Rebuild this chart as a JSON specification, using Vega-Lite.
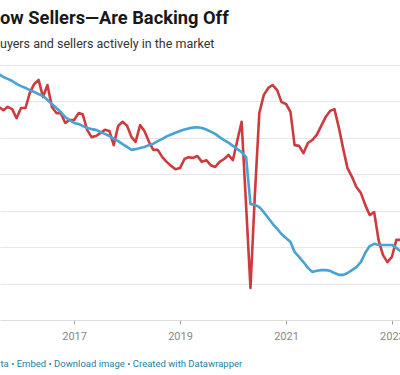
{
  "$schema": "https://vega.github.io/schema/vega-lite/v6.json",
  "width": 400,
  "height": 255,
  "autosize": {"type": "none"},
  "padding": {"left": 0, "top": 65, "right": 0, "bottom": 55},
  "background": "white",
  "config": {"font": "Roboto", "view": {"stroke": null}},
  "title": {
    "text": "ow Sellers—Are Backing Off",
    "subtitle": "uyers and sellers actively in the market",
    "anchor": "start",
    "frame": "group",
    "font": "Roboto",
    "fontSize": 18.3,
    "fontWeight": "bold",
    "color": "#181818",
    "subtitleFont": "Roboto",
    "subtitleFontSize": 12.5,
    "subtitleColor": "#333333",
    "subtitlePadding": 9,
    "offset": 14
  },
  "data": {"values": [
    {"date":"2015-08-01","series":"Buyers","value":58.5},{"date":"2015-08-01","series":"Sellers","value":67.5},
    {"date":"2015-09-01","series":"Buyers","value":57.6},{"date":"2015-09-01","series":"Sellers","value":66.7},
    {"date":"2015-10-01","series":"Buyers","value":58.5},{"date":"2015-10-01","series":"Sellers","value":66.2},
    {"date":"2015-11-01","series":"Buyers","value":57.9},{"date":"2015-11-01","series":"Sellers","value":65.6},
    {"date":"2015-12-01","series":"Buyers","value":55.4},{"date":"2015-12-01","series":"Sellers","value":64.8},
    {"date":"2016-01-01","series":"Buyers","value":58.2},{"date":"2016-01-01","series":"Sellers","value":64.2},
    {"date":"2016-02-01","series":"Buyers","value":58.2},{"date":"2016-02-01","series":"Sellers","value":63.7},
    {"date":"2016-03-01","series":"Buyers","value":62.3},{"date":"2016-03-01","series":"Sellers","value":63.1},
    {"date":"2016-04-01","series":"Buyers","value":64.8},{"date":"2016-04-01","series":"Sellers","value":62.6},
    {"date":"2016-05-01","series":"Buyers","value":65.9},{"date":"2016-05-01","series":"Sellers","value":62.0},
    {"date":"2016-06-01","series":"Buyers","value":61.2},{"date":"2016-06-01","series":"Sellers","value":61.5},
    {"date":"2016-07-01","series":"Buyers","value":64.5},{"date":"2016-07-01","series":"Sellers","value":60.4},
    {"date":"2016-08-01","series":"Buyers","value":58.5},{"date":"2016-08-01","series":"Sellers","value":59.3},
    {"date":"2016-09-01","series":"Buyers","value":56.8},{"date":"2016-09-01","series":"Sellers","value":58.2},
    {"date":"2016-10-01","series":"Buyers","value":56.8},{"date":"2016-10-01","series":"Sellers","value":57.1},
    {"date":"2016-11-01","series":"Buyers","value":54.1},{"date":"2016-11-01","series":"Sellers","value":55.7},
    {"date":"2016-12-01","series":"Buyers","value":54.9},{"date":"2016-12-01","series":"Sellers","value":54.9},
    {"date":"2017-01-01","series":"Buyers","value":54.9},{"date":"2017-01-01","series":"Sellers","value":54.1},
    {"date":"2017-02-01","series":"Buyers","value":56.8},{"date":"2017-02-01","series":"Sellers","value":53.8},
    {"date":"2017-03-01","series":"Buyers","value":56.5},{"date":"2017-03-01","series":"Sellers","value":53.3},
    {"date":"2017-04-01","series":"Buyers","value":52.2},{"date":"2017-04-01","series":"Sellers","value":52.7},
    {"date":"2017-05-01","series":"Buyers","value":50.2},{"date":"2017-05-01","series":"Sellers","value":52.4},
    {"date":"2017-06-01","series":"Buyers","value":50.5},{"date":"2017-06-01","series":"Sellers","value":52.2},
    {"date":"2017-07-01","series":"Buyers","value":51.3},{"date":"2017-07-01","series":"Sellers","value":51.6},
    {"date":"2017-08-01","series":"Buyers","value":52.2},{"date":"2017-08-01","series":"Sellers","value":51.1},
    {"date":"2017-09-01","series":"Buyers","value":51.9},{"date":"2017-09-01","series":"Sellers","value":50.5},
    {"date":"2017-10-01","series":"Buyers","value":48.0},{"date":"2017-10-01","series":"Sellers","value":49.7},
    {"date":"2017-11-01","series":"Buyers","value":53.3},{"date":"2017-11-01","series":"Sellers","value":49.1},
    {"date":"2017-12-01","series":"Buyers","value":54.4},{"date":"2017-12-01","series":"Sellers","value":48.3},
    {"date":"2018-01-01","series":"Buyers","value":53.3},{"date":"2018-01-01","series":"Sellers","value":47.5},
    {"date":"2018-02-01","series":"Buyers","value":50.2},{"date":"2018-02-01","series":"Sellers","value":46.7},
    {"date":"2018-03-01","series":"Buyers","value":48.9},{"date":"2018-03-01","series":"Sellers","value":46.9},
    {"date":"2018-04-01","series":"Buyers","value":53.5},{"date":"2018-04-01","series":"Sellers","value":47.2},
    {"date":"2018-05-01","series":"Buyers","value":51.9},{"date":"2018-05-01","series":"Sellers","value":47.5},
    {"date":"2018-06-01","series":"Buyers","value":48.9},{"date":"2018-06-01","series":"Sellers","value":48.0},
    {"date":"2018-07-01","series":"Buyers","value":46.7},{"date":"2018-07-01","series":"Sellers","value":48.4},
    {"date":"2018-08-01","series":"Buyers","value":46.7},{"date":"2018-08-01","series":"Sellers","value":49.1},
    {"date":"2018-09-01","series":"Buyers","value":44.7},{"date":"2018-09-01","series":"Sellers","value":49.7},
    {"date":"2018-10-01","series":"Buyers","value":43.4},{"date":"2018-10-01","series":"Sellers","value":50.4},
    {"date":"2018-11-01","series":"Buyers","value":42.3},{"date":"2018-11-01","series":"Sellers","value":50.9},
    {"date":"2018-12-01","series":"Buyers","value":41.4},{"date":"2018-12-01","series":"Sellers","value":51.4},
    {"date":"2019-01-01","series":"Buyers","value":41.7},{"date":"2019-01-01","series":"Sellers","value":51.9},
    {"date":"2019-02-01","series":"Buyers","value":44.2},{"date":"2019-02-01","series":"Sellers","value":52.3},
    {"date":"2019-03-01","series":"Buyers","value":44.7},{"date":"2019-03-01","series":"Sellers","value":52.6},
    {"date":"2019-04-01","series":"Buyers","value":44.5},{"date":"2019-04-01","series":"Sellers","value":52.8},
    {"date":"2019-05-01","series":"Buyers","value":45.0},{"date":"2019-05-01","series":"Sellers","value":52.9},
    {"date":"2019-06-01","series":"Buyers","value":43.4},{"date":"2019-06-01","series":"Sellers","value":52.7},
    {"date":"2019-07-01","series":"Buyers","value":43.9},{"date":"2019-07-01","series":"Sellers","value":52.3},
    {"date":"2019-08-01","series":"Buyers","value":42.5},{"date":"2019-08-01","series":"Sellers","value":51.7},
    {"date":"2019-09-01","series":"Buyers","value":42.0},{"date":"2019-09-01","series":"Sellers","value":51.1},
    {"date":"2019-10-01","series":"Buyers","value":43.4},{"date":"2019-10-01","series":"Sellers","value":50.2},
    {"date":"2019-11-01","series":"Buyers","value":44.2},{"date":"2019-11-01","series":"Sellers","value":49.4},
    {"date":"2019-12-01","series":"Buyers","value":45.3},{"date":"2019-12-01","series":"Sellers","value":48.7},
    {"date":"2020-01-01","series":"Buyers","value":43.9},{"date":"2020-01-01","series":"Sellers","value":47.8},
    {"date":"2020-02-01","series":"Buyers","value":49.4},{"date":"2020-02-01","series":"Sellers","value":46.9},
    {"date":"2020-03-01","series":"Buyers","value":54.4},{"date":"2020-03-01","series":"Sellers","value":46.1},
    {"date":"2020-04-01","series":"Buyers","value":31.3},{"date":"2020-04-01","series":"Sellers","value":44.7},
    {"date":"2020-05-01","series":"Buyers","value":8.8},{"date":"2020-05-01","series":"Sellers","value":31.8},
    {"date":"2020-06-01","series":"Buyers","value":34.9},{"date":"2020-06-01","series":"Sellers","value":31.6},
    {"date":"2020-07-01","series":"Buyers","value":56.8},{"date":"2020-07-01","series":"Sellers","value":31.0},
    {"date":"2020-08-01","series":"Buyers","value":61.8},{"date":"2020-08-01","series":"Sellers","value":29.6},
    {"date":"2020-09-01","series":"Buyers","value":63.7},{"date":"2020-09-01","series":"Sellers","value":28.0},
    {"date":"2020-10-01","series":"Buyers","value":64.5},{"date":"2020-10-01","series":"Sellers","value":26.4},
    {"date":"2020-11-01","series":"Buyers","value":63.1},{"date":"2020-11-01","series":"Sellers","value":25.0},
    {"date":"2020-12-01","series":"Buyers","value":59.8},{"date":"2020-12-01","series":"Sellers","value":23.6},
    {"date":"2021-01-01","series":"Buyers","value":59.3},{"date":"2021-01-01","series":"Sellers","value":22.5},
    {"date":"2021-02-01","series":"Buyers","value":57.1},{"date":"2021-02-01","series":"Sellers","value":21.4},
    {"date":"2021-03-01","series":"Buyers","value":48.0},{"date":"2021-03-01","series":"Sellers","value":18.7},
    {"date":"2021-04-01","series":"Buyers","value":47.8},{"date":"2021-04-01","series":"Sellers","value":17.3},
    {"date":"2021-05-01","series":"Buyers","value":45.8},{"date":"2021-05-01","series":"Sellers","value":15.9},
    {"date":"2021-06-01","series":"Buyers","value":48.6},{"date":"2021-06-01","series":"Sellers","value":14.3},
    {"date":"2021-07-01","series":"Buyers","value":49.4},{"date":"2021-07-01","series":"Sellers","value":13.2},
    {"date":"2021-08-01","series":"Buyers","value":50.8},{"date":"2021-08-01","series":"Sellers","value":13.5},
    {"date":"2021-09-01","series":"Buyers","value":53.3},{"date":"2021-09-01","series":"Sellers","value":13.7},
    {"date":"2021-10-01","series":"Buyers","value":55.7},{"date":"2021-10-01","series":"Sellers","value":13.7},
    {"date":"2021-11-01","series":"Buyers","value":57.4},{"date":"2021-11-01","series":"Sellers","value":13.5},
    {"date":"2021-12-01","series":"Buyers","value":57.9},{"date":"2021-12-01","series":"Sellers","value":12.9},
    {"date":"2022-01-01","series":"Buyers","value":52.7},{"date":"2022-01-01","series":"Sellers","value":12.4},
    {"date":"2022-02-01","series":"Buyers","value":46.7},{"date":"2022-02-01","series":"Sellers","value":12.4},
    {"date":"2022-03-01","series":"Buyers","value":41.7},{"date":"2022-03-01","series":"Sellers","value":12.9},
    {"date":"2022-04-01","series":"Buyers","value":39.3},{"date":"2022-04-01","series":"Sellers","value":13.7},
    {"date":"2022-05-01","series":"Buyers","value":36.5},{"date":"2022-05-01","series":"Sellers","value":14.5},
    {"date":"2022-06-01","series":"Buyers","value":34.9},{"date":"2022-06-01","series":"Sellers","value":15.9},
    {"date":"2022-07-01","series":"Buyers","value":31.6},{"date":"2022-07-01","series":"Sellers","value":18.4},
    {"date":"2022-08-01","series":"Buyers","value":28.8},{"date":"2022-08-01","series":"Sellers","value":20.3},
    {"date":"2022-09-01","series":"Buyers","value":29.6},{"date":"2022-09-01","series":"Sellers","value":20.9},
    {"date":"2022-10-01","series":"Buyers","value":22.0},{"date":"2022-10-01","series":"Sellers","value":20.6},
    {"date":"2022-11-01","series":"Buyers","value":17.8},{"date":"2022-11-01","series":"Sellers","value":20.6},
    {"date":"2022-12-01","series":"Buyers","value":15.9},{"date":"2022-12-01","series":"Sellers","value":20.6},
    {"date":"2023-01-01","series":"Buyers","value":17.3},{"date":"2023-01-01","series":"Sellers","value":20.6},
    {"date":"2023-02-01","series":"Buyers","value":22.0},{"date":"2023-02-01","series":"Sellers","value":19.8},
    {"date":"2023-03-01","series":"Buyers","value":22.0},{"date":"2023-03-01","series":"Sellers","value":18.9}
  ]},
  "mark": {"type": "line", "strokeWidth": 2.6, "clip": true, "strokeJoin": "round"},
  "encoding": {
    "x": {
      "field": "date",
      "type": "temporal",
      "scale": {"domain": [{"year": 2015, "month": 8, "date": 9}, {"year": 2023, "month": 2, "date": 26}]},
      "axis": {
        "values": [{"year": 2017, "month": 1, "date": 1}, {"year": 2019, "month": 1, "date": 1}, {"year": 2021, "month": 1, "date": 1}, {"year": 2023, "month": 1, "date": 1}],
        "format": "%Y",
        "grid": false,
        "domain": true,
        "domainColor": "#dcdcdc",
        "tickColor": "#a0a0a0",
        "tickSize": 4,
        "labelColor": "#888888",
        "labelFont": "Roboto",
        "labelFontSize": 11,
        "labelPadding": 6,
        "title": "ta • Embed  • Download image • Created with Datawrapper",
        "titleAnchor": "start",
        "titleAlign": "left",
        "titleFont": "Roboto",
        "titleFontWeight": "normal",
        "titleFontSize": 9.5,
        "titleColor": "#1d81a2",
        "titlePadding": 17
      }
    },
    "y": {
      "field": "value",
      "type": "quantitative",
      "scale": {"domain": [0, 70]},
      "axis": {
        "values": [10, 20, 30, 40, 50, 60, 70],
        "labels": false,
        "ticks": false,
        "domain": false,
        "grid": true,
        "gridColor": "#e6e6e6",
        "title": null
      }
    },
    "color": {
      "field": "series",
      "type": "nominal",
      "scale": {"domain": ["Buyers", "Sellers"], "range": ["#cd3b3f", "#48a2d2"]},
      "legend": null
    }
  }
}
